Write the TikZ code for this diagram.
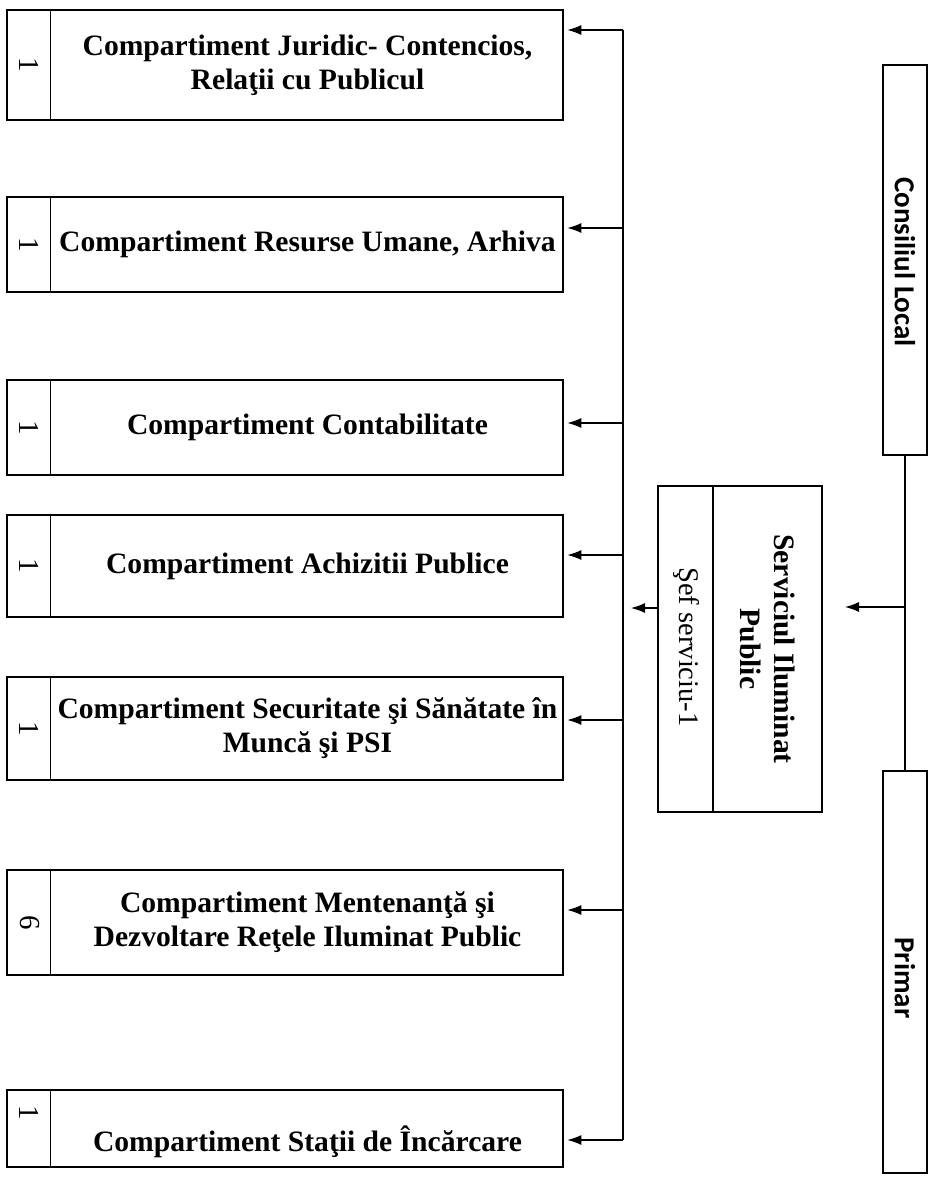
\documentclass[tikz,border=0pt]{standalone}
\usepackage{fontspec}
\setmainfont{Liberation Serif}
\newfontfamily\calib{Carlito}
\usetikzlibrary{arrows.meta}
\begin{document}
\begin{tikzpicture}[x=1pt,y=-1pt,
  cbox/.style={draw, line width=2.8pt, minimum width=556pt, inner sep=0pt},
  divl/.style={line width=1.6pt},
  numtxt/.style={rotate=-90, font=\fontsize{29}{30}\selectfont},
  btxt/.style={align=center, font=\fontsize{29.6}{34}\selectfont\bfseries},
  conn/.style={line width=1.1pt},
  arr/.style={conn, -{Latex[length=14pt,width=10pt]}},
  sidebox/.style={draw, line width=2.8pt, minimum width=44pt, inner sep=0pt},
  sidetxt/.style={rotate=-90, font=\fontsize{29}{30}\calib\bfseries}]
\useasboundingbox (0,0) rectangle (929,1177);

% left boxes
\node[cbox, minimum height=110pt] (b1) at (285,65) {};
\node[cbox, minimum height=95pt] (b2) at (285,244.5) {};
\node[cbox, minimum height=95pt] (b3) at (285,427.5) {};
\node[cbox, minimum height=102pt] (b4) at (285,566) {};
\node[cbox, minimum height=103pt] (b5) at (285,728.5) {};
\node[cbox, minimum height=105pt] (b6) at (285,922.5) {};
\node[cbox, minimum height=77pt] (b7) at (285,1128.5) {};

\foreach \b in {b1,b2,b3,b4,b5,b6,b7}{
  \draw[divl] ([xshift=45pt]\b.north west) -- ([xshift=45pt]\b.south west);
}

% numbers
\node[numtxt] (n1) at (29.5,65) {1};
\node[numtxt] (n2) at (29.5,244.5) {1};
\node[numtxt] (n3) at (29.5,427.5) {1};
\node[numtxt] (n4) at (29.5,566) {1};
\node[numtxt] (n5) at (29.5,728.5) {1};
\node[numtxt] (n6) at (29.5,922.5) {6};
\node[numtxt] (n7) at (29.5,1113) {1};

% texts
\node[btxt] (t1) at (307.5,65) {Compartiment Juridic- Contencios,\\Relaţii cu Publicul};
\node[btxt] (t2) at (307.5,244.5) {Compartiment Resurse Umane, Arhiva};
\node[btxt] (t3) at (307.5,427.5) {Compartiment Contabilitate};
\node[btxt] (t4) at (307.5,566) {Compartiment Achizitii Publice};
\node[btxt] (t5) at (307.5,728.5) {Compartiment Securitate şi Sănătate în\\Muncă şi PSI};
\node[btxt] (t6) at (307.5,922.5) {Compartiment Mentenanţă şi\\Dezvoltare Reţele Iluminat Public};
\node[btxt] (t7) at (307.5,1142) {Compartiment Staţii de Încărcare};

% center box
\node[draw, line width=2.4pt, minimum width=164pt, minimum height=326pt, inner sep=0pt] (sip) at (740,649) {};
\draw[divl] ([xshift=56pt]sip.north west) -- ([xshift=56pt]sip.south west);
\node[btxt, rotate=-90] (sipt) at (768,649) {Serviciul Iluminat\\Public};
\node[rotate=-90, font=\fontsize{28.5}{30}\selectfont] (sef) at (686,647) {Şef serviciu-1};

% right boxes
\node[sidebox, minimum height=390pt] (cl) at (905,260) {};
\node[sidetxt] (clt) at (905,262) {Consiliul Local};
\node[sidebox, minimum height=402pt] (pr) at (905,972) {};
\node[sidetxt] (prt) at (905,978) {Primar};

% right connector
\draw[conn] (cl.south) -- (pr.north);
\coordinate (rj) at (cl.south |- 0,607);
\coordinate (rt) at (845,607);
\draw[arr] (rj) -- (rt);

% bus
\coordinate (bt) at (623,30);
\coordinate (bb) at (623,1140);
\draw[conn] (bt) -- (bb);
\coordinate (sj) at (631,608);
\draw[arr] (sip.west |- sj) -- (sj);

\foreach \b/\y in {b1/30,b2/228,b3/423,b4/555,b5/720,b6/910,b7/1140}{
  \draw[arr, shorten >=3pt] (623,\y) -- (\b.east |- 0,\y);
}
\end{tikzpicture}
\end{document}
